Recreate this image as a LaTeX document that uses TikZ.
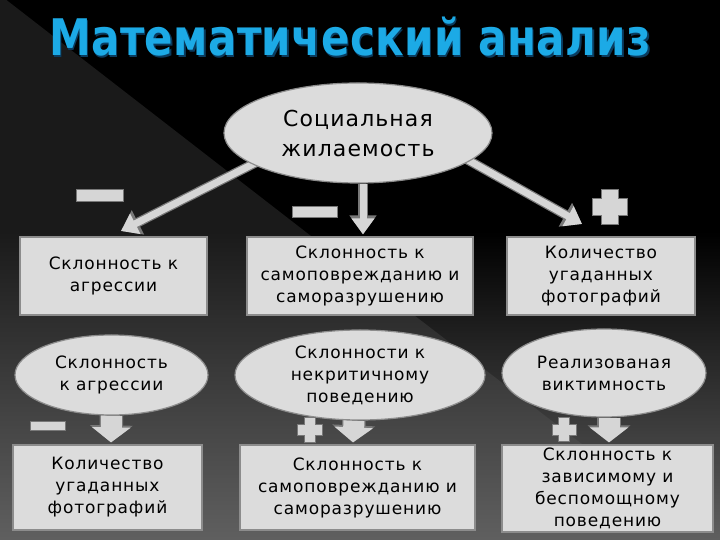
\documentclass[tikz,border=0pt]{standalone}
\usepackage{fontspec}
\usepackage{graphicx}
\setmainfont{DejaVu Sans}
\newfontfamily\bxfont[LetterSpace=5]{DejaVu Sans}
\newfontfamily\elfont[LetterSpace=5]{DejaVu Sans}
\newfontfamily\ttlfont[LetterSpace=1]{DejaVu Sans Bold}
\usetikzlibrary{arrows.meta,shapes.geometric,calc,fadings}
\pgfdeclarelayer{bg}
\pgfdeclarelayer{arr}
\pgfsetlayers{bg,arr,main}
\definecolor{boxfill}{RGB}{220,220,220}
\definecolor{boxedge}{RGB}{140,140,140}
\definecolor{arrfill}{RGB}{214,214,214}
\definecolor{arredge}{RGB}{120,120,120}
\definecolor{titleblue}{RGB}{28,170,230}
\definecolor{titleglow}{RGB}{10,60,95}
\definecolor{leftgray}{RGB}{26,26,26}
\definecolor{lowgray}{RGB}{96,96,96}
\newcommand\plussign[4]{%
  \begin{scope}[shift={(#1,#2)}]
  \draw[signbox] ({-#4},{-#3}) -- ({#4},{-#3}) -- ({#4},{-#4}) -- ({#3},{-#4}) --
     ({#3},{#4}) -- ({#4},{#4}) -- ({#4},{#3}) -- ({-#4},{#3}) -- ({-#4},{#4}) --
     ({-#3},{#4}) -- ({-#3},{-#4}) -- ({-#4},{-#4}) -- cycle;
  \end{scope}}
\begin{document}
\begin{tikzpicture}[x=1pt,y=1pt,
  box/.style={rectangle, draw=boxedge, line width=1.2pt, fill=boxfill, align=center,
    inner sep=0pt, font=\bxfont\fontsize{17}{22}\selectfont, text=black},
  oval/.style={ellipse, draw=boxedge, line width=1.2pt, fill=boxfill, align=center,
    inner sep=0pt, font=\bxfont\fontsize{17}{22}\selectfont, text=black},
  signbox/.style={draw=arredge, line width=1pt, fill=arrfill},
  thinarrow/.style={line width=7pt, draw=arrfill,
    -{Triangle[width=22pt,length=16pt,fill=arrfill]},
    preaction={draw=arredge, line width=9.5pt, -{Triangle[width=26pt,length=19pt]}}},
  fatarrow/.style={line width=21pt, draw=arrfill,
    -{Triangle[width=38pt,length=15pt,fill=arrfill]},
    preaction={draw=arredge, line width=23.5pt, -{Triangle[width=42pt,length=17pt]}}}]
\useasboundingbox (0,0) rectangle (720,540);
\begin{pgfonlayer}{bg}
  \fill[black] (0,0) rectangle (720,540);
  \fill[leftgray] (0,545) -- (320,297) -- (720,-10) -- (0,-10) -- cycle;
  \fill[lowgray, path fading=north] (0,0) rectangle (720,310);
\end{pgfonlayer}
% title
\node[text=titleglow, font=\ttlfont\fontsize{42}{46}\selectfont] at (351.5,501.5) {\scalebox{1}[1.2]{Математический анализ}};
\node[text=titleblue, font=\ttlfont\fontsize{42}{46}\selectfont] (title) at (350,503) {\scalebox{1}[1.2]{Математический анализ}};
% top ellipse
\node[oval, minimum width=268pt, minimum height=100pt, font=\elfont\fontsize{22}{30}\selectfont] (top) at (358,407) {Социальная\\жилаемость};
% row 1
\node[box, minimum width=187pt, minimum height=78pt] (b1) at (113.5,264) {Склонность к\\агрессии};
\node[box, minimum width=226pt, minimum height=78pt] (b2) at (360,264) {Склонность к\\самоповреждaнию и\\саморазрушению};
\node[box, minimum width=188pt, minimum height=78pt] (b3) at (601,264) {Количество\\угаданных\\фотографий};
% row 2
\node[oval, minimum width=193pt, minimum height=80pt] (e1) at (111.5,165) {Склонность\\к агрессии};
\node[oval, minimum width=250pt, minimum height=90pt] (e2) at (360,165) {Склонности к\\некритичному\\поведению};
\node[oval, minimum width=204pt, minimum height=88pt] (e3) at (604,167) {Реализованая\\виктимность};
% row 3
\node[box, minimum width=189pt, minimum height=85pt] (b4) at (107.5,52.5) {Количество\\угаданных\\фотографий};
\node[box, minimum width=235pt, minimum height=85pt] (b5) at (357.5,52.5) {Склонность к\\самоповреждaнию и\\саморазрушению};
\node[box, minimum width=211pt, minimum height=87pt] (b6) at (607.5,51.5) {Склонность к\\зависимому и\\беспомощному\\поведению};
% arrow end points
\coordinate (s1) at (259,379);
\coordinate (t1) at (121,309);
\coordinate (s3) at (459,385);
\coordinate (t3) at (582,316);
\begin{pgfonlayer}{arr}
  \draw[thinarrow] (s1) -- (t1);
  \draw[thinarrow] (top.south -| 363,0) -- ([yshift=2pt]b2.north -| 363,0);
  \draw[thinarrow] (s3) -- (t3);
  \draw[fatarrow] (e1.south) -- ([yshift=2pt]b4.north -| 111,0);
  \draw[fatarrow] ([xshift=-6pt]e2.south) -- ([yshift=2pt]b5.north -| 353,0);
  \draw[fatarrow] ([xshift=5pt]e3.south) -- ([yshift=2pt]b6.north -| 609,0);
\end{pgfonlayer}
% signs
\draw[signbox] (76,338) rectangle (123,350);
\draw[signbox] (292,322) rectangle (337,333);
\plussign{610}{333}{17.5}{8.5}
\draw[signbox] (30,109) rectangle (65,118);
\plussign{310}{110}{12.5}{5.5}
\plussign{564}{110}{12}{5.5}
\end{tikzpicture}
\end{document}
